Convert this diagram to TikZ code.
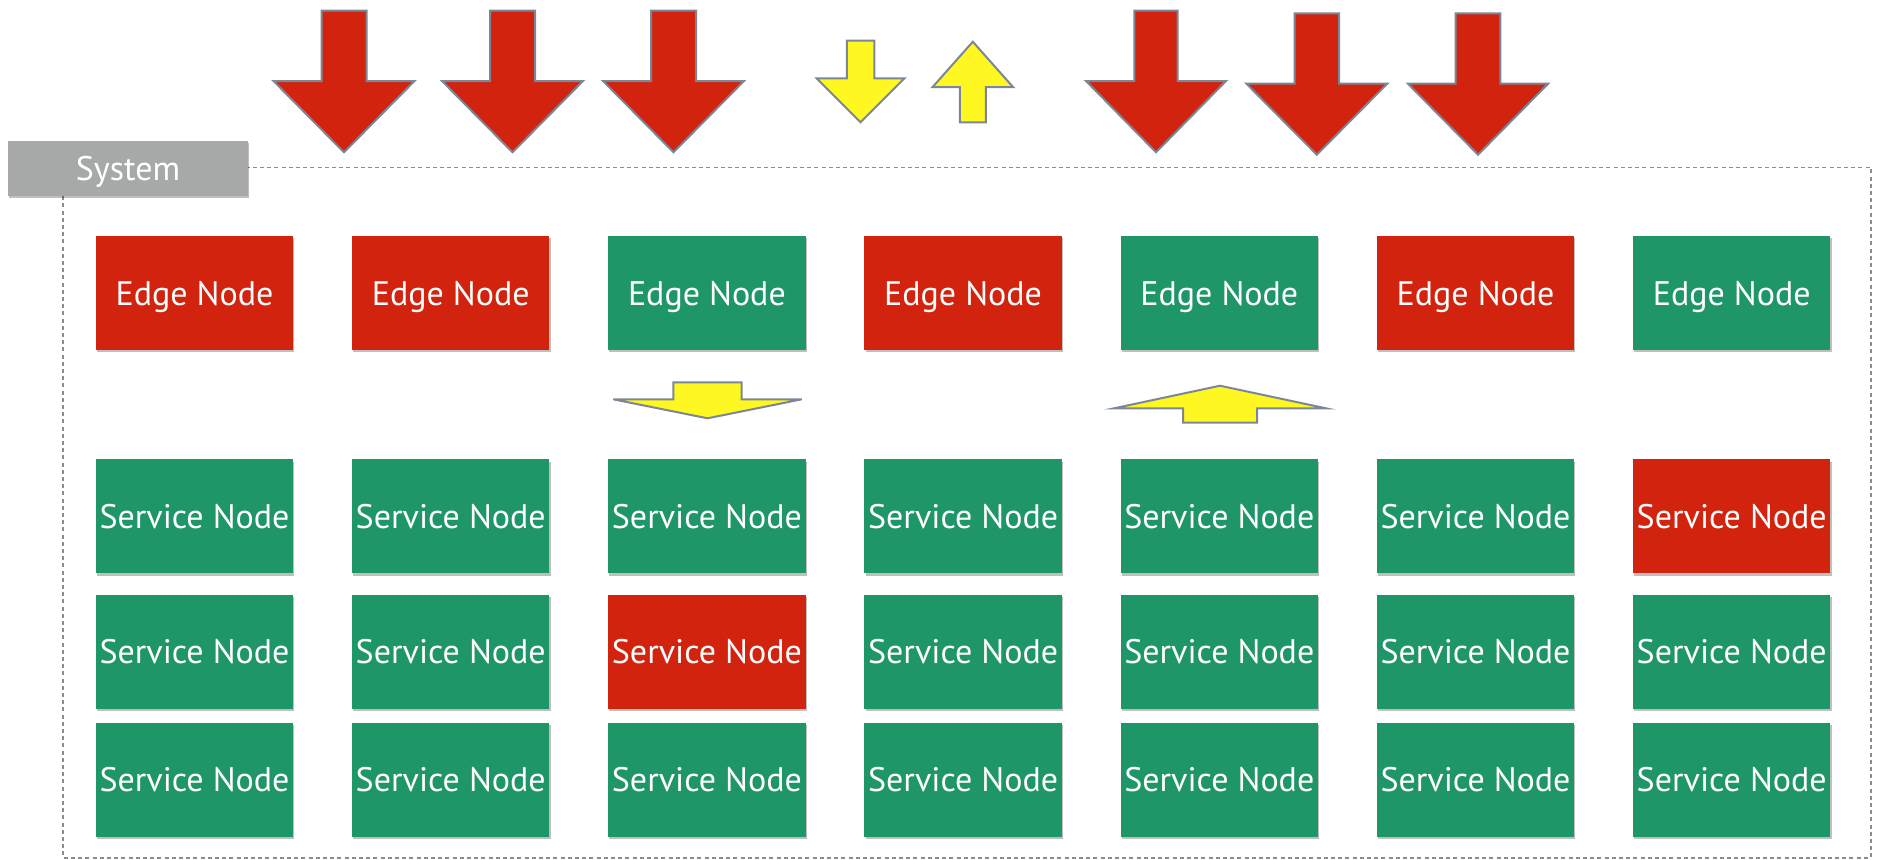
\documentclass[tikz,border=0pt]{standalone}
\usepackage{fontspec}
\setmainfont{PT Sans}
\usetikzlibrary{shadows}
\definecolor{nred}{HTML}{D2230F}
\definecolor{ngreen}{HTML}{1F9668}
\definecolor{nyellow}{HTML}{FFF721}
\definecolor{aline}{HTML}{7B8796}
\definecolor{sysgray}{HTML}{A6A9A7}
\definecolor{framegray}{HTML}{8C8C8C}
\tikzset{
  box/.style={minimum width=98.75pt, minimum height=57pt, inner sep=0pt, text=white,
    font=\fontsize{17}{19}\selectfont, text height=12pt, text depth=0pt,
    drop shadow={shadow xshift=0.6pt, shadow yshift=-1.2pt, opacity=0.25, fill=black}},
  sysbox/.style={box, fill=sysgray, minimum width=120pt, minimum height=27.5pt},
  redarrow/.style={fill=nred, draw=aline, line width=1pt, line join=miter},
  yelarrow/.style={fill=nyellow, draw=aline, line width=1pt, line join=miter},
  framedash/.style={draw=framegray, line width=0.8pt, dash pattern=on 2pt off 1.6pt},
}
% style, cx, shaft end, head base, tip, shaft half width, head half width
\newcommand\blockarrow[7]{%
  \draw[#1] ({#2-#6},{#3}) -- ({#2+#6},{#3}) -- ({#2+#6},{#4}) -- ({#2+#7},{#4})
    -- ({#2},{#5}) -- ({#2-#7},{#4}) -- ({#2-#6},{#4}) -- cycle;}
\begin{document}
\begin{tikzpicture}[x=0.5pt,y=-0.5pt]
\useasboundingbox (0,0) rectangle (1877,859);
% frame
\draw[framedash] (63,167.3) rectangle (1870.7,857.7);
\node[sysbox] (sys) at (128,168.5) {System};
% top arrows
\blockarrow{redarrow}{344}{10.7}{81}{152.3}{22.5}{70.5}
\blockarrow{redarrow}{512.5}{10.7}{81}{152.3}{22.5}{70.5}
\blockarrow{redarrow}{673.5}{10.7}{81}{152.3}{22.5}{70.5}
\blockarrow{yelarrow}{860.5}{40.7}{78.3}{122.3}{13.75}{44}
\blockarrow{yelarrow}{972.8}{122.3}{87}{41.7}{13}{40.2}
\blockarrow{redarrow}{1156}{10.7}{81}{152.3}{21.6}{70}
\blockarrow{redarrow}{1316.8}{13.3}{83.7}{154.7}{22.3}{70.4}
\blockarrow{redarrow}{1478}{13.3}{83.7}{154.7}{22.3}{70.1}
% middle arrows
\blockarrow{yelarrow}{707.5}{382.3}{399.3}{418.3}{34.2}{94.2}
\blockarrow{yelarrow}{1220}{422.7}{408.3}{385.7}{37}{105.9}
% edge nodes
\foreach \c [count=\i] in {nred,nred,ngreen,nred,ngreen,nred,ngreen}
  \node[box, fill=\c] (e\i) at ({194.5+256.2*(\i-1)},293) {Edge Node};
% service nodes
\foreach \c [count=\i] in {ngreen,ngreen,ngreen,ngreen,ngreen,ngreen,nred}
  \node[box, fill=\c] (sa\i) at ({194.5+256.2*(\i-1)},516.3) {Service Node};
\foreach \c [count=\i] in {ngreen,ngreen,nred,ngreen,ngreen,ngreen,ngreen}
  \node[box, fill=\c] (sb\i) at ({194.5+256.2*(\i-1)},651.8) {Service Node};
\foreach \c [count=\i] in {ngreen,ngreen,ngreen,ngreen,ngreen,ngreen,ngreen}
  \node[box, fill=\c] (sc\i) at ({194.5+256.2*(\i-1)},779.8) {Service Node};
\end{tikzpicture}
\end{document}
